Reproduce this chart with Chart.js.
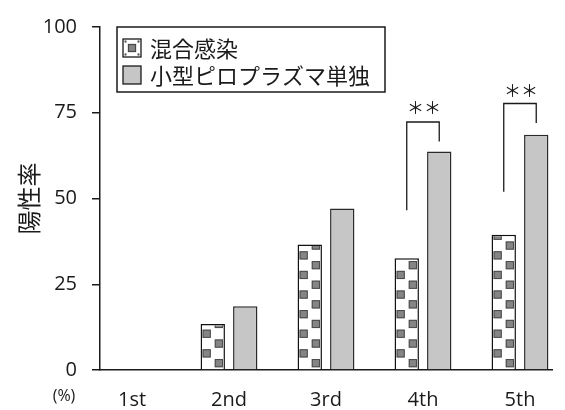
<!DOCTYPE html>
<html>
<head>
<meta charset="utf-8">
<script src="https://cdn.jsdelivr.net/npm/chart.js@4"></script>
<style>
  body { margin: 0; background: #fff; }
  #wrap { width: 565px; height: 410px; }
</style>
</head>
<body>
<div id="wrap"><canvas id="MyChart" width="565" height="410"></canvas></div>
<script>
// data
const categories = ['1st', '2nd', '3rd', '4th', '5th'];
const mixedValues = [0, 13.4, 36.6, 32.6, 39.4];
const singleValues = [0, 18.6, 47.1, 63.7, 68.6];
const yTicks = [0, 25, 50, 75, 100];
const seriesNames = ['混合感染', '小型ピロプラズマ単独'];

// significance brackets (** at 4th and 5th)
const sigIndex = [3, 4];
const sigTop = [72.3, 77.7];
const sigLeftEnd = [46.6, 52];
const sigRightEnd = [66.6, 72];
const sigStarY = [76.6, 81.4];

const ink = '#1a1a1a';
const grayFill = '#c6c6c6';
const squareFill = '#858585';
const squareEdge = '#4a4a4a';

// gray squares inside the checker bars
const checkerPlugin = {
    id: 'checker',
    afterDatasetDraw(chart, args) {
        if (args.index !== 0) return;
        const ctx = chart.ctx;
        args.meta.data.forEach((bar) => {
            const h = bar.base - bar.y;
            if (h < 1) return;
            const left = bar.x - bar.width / 2;
            const cellW = bar.width / 2;
            const cellH = 9.8;
            const sq = 8.2;
            ctx.save();
            ctx.beginPath();
            ctx.rect(left + 1.5, bar.y + 1.5, bar.width - 3, h - 1.5);
            ctx.clip();
            ctx.fillStyle = squareFill;
            ctx.strokeStyle = squareEdge;
            ctx.lineWidth = 1;
            for (let r = 0; r * cellH < h + cellH; r++) {
                const col = r % 2 === 0 ? 1 : 0;
                const sx = left + col * cellW + 2;
                const sy = bar.base - 2 - r * cellH - sq;
                ctx.fillRect(sx, sy, sq, sq);
                ctx.strokeRect(sx + 0.5, sy + 0.5, sq - 1, sq - 1);
            }
            ctx.restore();
        });
    }
};

// brackets, stars, legend box and (%) label
const extrasPlugin = {
    id: 'extras',
    afterDraw(chart) {
        const ctx = chart.ctx;
        const y = chart.scales.y;
        const m0 = chart.getDatasetMeta(0).data;
        const m1 = chart.getDatasetMeta(1).data;
        ctx.save();
        ctx.strokeStyle = ink;
        ctx.lineWidth = 1.3;
        sigIndex.forEach((ci, k) => {
            const xl = m0[ci].x;
            const xr = m1[ci].x;
            const yt = y.getPixelForValue(sigTop[k]);
            ctx.beginPath();
            ctx.moveTo(xl, y.getPixelForValue(sigLeftEnd[k]));
            ctx.lineTo(xl, yt);
            ctx.lineTo(xr, yt);
            ctx.lineTo(xr, y.getPixelForValue(sigRightEnd[k]));
            ctx.stroke();
            ctx.fillStyle = ink;
            ctx.font = '17px "Noto Sans CJK JP"';
            ctx.textAlign = 'center';
            ctx.textBaseline = 'middle';
            ctx.fillText('＊＊', (xl + xr) / 2 + 1, y.getPixelForValue(sigStarY[k]));
        });

        // legend
        const a = chart.chartArea;
        const bx = a.left + 17, by = a.top, bw = 268, bh = 65;
        ctx.fillStyle = '#fff';
        ctx.fillRect(bx, by, bw, bh);
        ctx.lineWidth = 1.5;
        ctx.strokeStyle = ink;
        ctx.strokeRect(bx, by, bw, bh);
        const rows = [by + 21, by + 48];
        const ix = bx + 6;
        // icon 1: checker
        ctx.lineWidth = 1.3;
        ctx.fillStyle = '#fff';
        ctx.fillRect(ix, rows[0] - 9, 18, 18);
        ctx.strokeRect(ix, rows[0] - 9, 18, 18);
        ctx.fillStyle = squareFill;
        ctx.strokeStyle = squareEdge;
        ctx.fillRect(ix + 5, rows[0] - 4, 8, 8);
        ctx.strokeRect(ix + 5.5, rows[0] - 3.5, 7, 7);
        ctx.fillStyle = squareEdge;
        [[1.5, 1.5], [14.5, 1.5], [1.5, 14.5], [14.5, 14.5]].forEach(([dx, dy]) => {
            ctx.fillRect(ix + dx, rows[0] - 9 + dy, 2, 2);
        });
        // icon 2: gray
        ctx.fillStyle = grayFill;
        ctx.strokeStyle = ink;
        ctx.fillRect(ix, rows[1] - 9, 18, 18);
        ctx.strokeRect(ix, rows[1] - 9, 18, 18);

        ctx.fillStyle = ink;
        ctx.font = '22px "Noto Sans CJK JP"';
        ctx.textAlign = 'left';
        ctx.textBaseline = 'middle';
        ctx.fillText(seriesNames[0], bx + 33, rows[0] + 1);
        ctx.fillText(seriesNames[1], bx + 33, rows[1] + 1);

        // unit under the y axis
        ctx.font = '16px "Open Sans"';
        ctx.textAlign = 'center';
        ctx.fillText('(%)', 64, 396);
        ctx.restore();
    }
};

const ctx = document.getElementById('MyChart').getContext('2d');
const values = {
    datasets: [
        {
            label: seriesNames[0],
            data: mixedValues.map((v, i) => ({ x: i, y: v })),
            backgroundColor: '#fff',
            borderColor: '#111',
            borderWidth: 1.5,
        },
        {
            label: seriesNames[1],
            data: singleValues.map((v, i) => ({ x: i, y: v })),
            backgroundColor: grayFill,
            borderColor: '#2a2a2a',
            borderWidth: 1.5,
        }
    ],
};

new Chart(ctx, {
    type: 'bar',
    data: values,
    plugins: [checkerPlugin, extrasPlugin],
    options: {
        responsive: false,
        animation: false,
        categoryPercentage: 0.67,
        barPercentage: 0.75,
        layout: { padding: { top: 20, right: 13, left: 0, bottom: 0 } },
        plugins: { legend: { display: false }, tooltip: { enabled: false } },
        scales: {
            x: {
                type: 'linear',
                offset: false,
                min: -0.33,
                max: 4.33,
                afterBuildTicks: (scale) => { scale.ticks = categories.map((c, i) => ({ value: i })); },
                afterFit: (scale) => { scale.height = 40; },
                grid: { display: false, drawTicks: false, offset: false },
                border: { display: true, color: ink, width: 1.5 },
                ticks: {
                    callback: (v) => categories[v],
                    color: ink,
                    padding: 18,
                    maxRotation: 0,
                    font: { family: 'Open Sans', size: 20 },
                },
            },
            y: {
                min: 0,
                max: 100,
                afterBuildTicks: (scale) => { scale.ticks = yTicks.map((v) => ({ value: v })); },
                afterFit: (scale) => { scale.width = 100; },
                grid: { drawOnChartArea: false, drawTicks: true, tickLength: 8, color: ink, lineWidth: 1.5 },
                border: { display: true, color: ink, width: 1.5 },
                ticks: {
                    color: ink,
                    padding: 15,
                    font: { family: 'Open Sans', size: 20 },
                },
                title: {
                    display: true,
                    text: '陽性率',
                    color: ink,
                    padding: { top: 14, bottom: 0 },
                    font: { family: 'Noto Sans CJK JP', size: 24 },
                },
            }
        }
    }
});
</script>
</body>
</html>
